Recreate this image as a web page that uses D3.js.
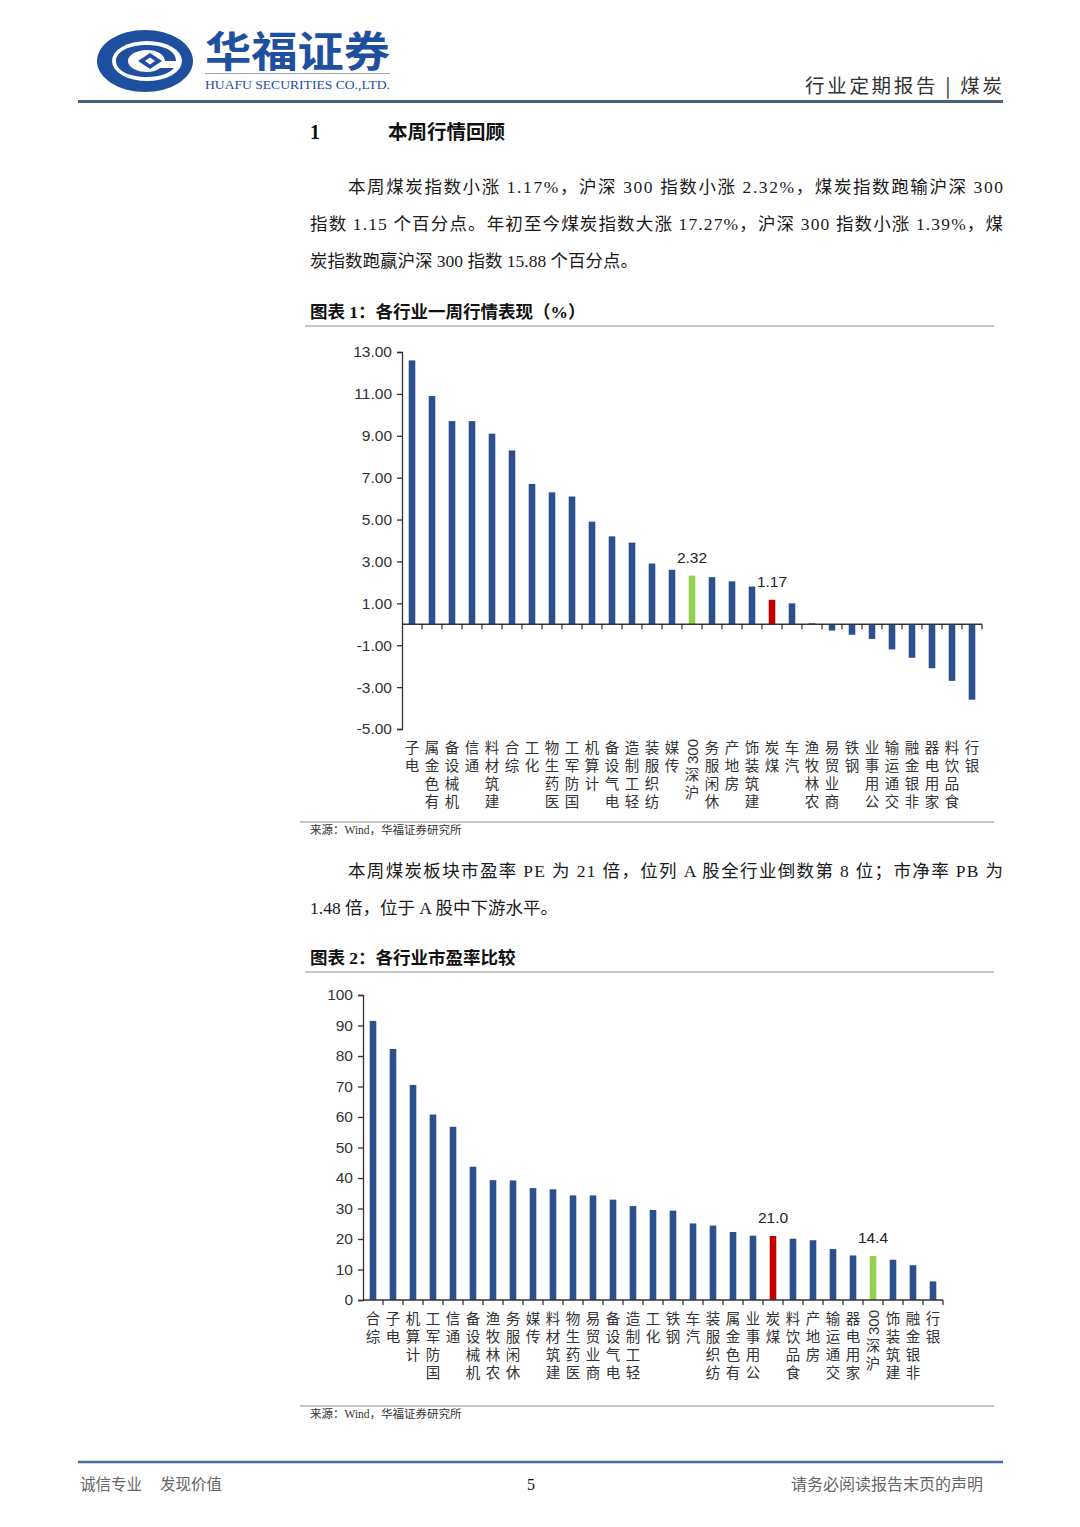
<!DOCTYPE html>
<html><head><meta charset="utf-8">
<script src="https://cdn.jsdelivr.net/npm/d3@7/dist/d3.min.js"></script>
<style>
html,body{margin:0;padding:0;background:#fff;}
svg{display:block;}
</style></head>
<body>
<svg id="page" width="1080" height="1527"></svg>
<script>
// ---------- DATA ----------
const weeklyCategories = ["电子","有色金属","机械设备","通信","建筑材料","综合","化工","医药生物","国防军工","计算机","电气设备","轻工制造","纺织服装","传媒","沪深300","休闲服务","房地产","建筑装饰","煤炭","汽车","农林牧渔","商业贸易","钢铁","公用事业","交通运输","非银金融","家用电器","食品饮料","银行"];
const weeklyValues = [12.6,10.9,9.7,9.7,9.1,8.3,6.7,6.3,6.1,4.9,4.2,3.9,2.9,2.6,2.32,2.25,2.05,1.8,1.17,1.0,0.05,-0.3,-0.5,-0.7,-1.2,-1.6,-2.1,-2.7,-3.6];
const weeklyTicks = [-5,-3,-1,1,3,5,7,9,11,13];
const weeklyLabelled = {"沪深300":"2.32","煤炭":"1.17"};

const peCategories = ["综合","电子","计算机","国防军工","通信","机械设备","农林牧渔","休闲服务","传媒","建筑材料","医药生物","商业贸易","电气设备","轻工制造","化工","钢铁","汽车","纺织服装","有色金属","公用事业","煤炭","食品饮料","房地产","交通运输","家用电器","沪深300","建筑装饰","非银金融","银行"];
const peValues = [91.5,82.3,70.5,60.8,56.8,43.7,39.3,39.2,36.7,36.3,34.3,34.3,32.9,30.8,29.5,29.3,25.1,24.4,22.3,21.1,21.0,20.1,19.6,16.7,14.6,14.4,13.2,11.4,6.1];
const peTicks = [0,10,20,30,40,50,60,70,80,90,100];
const peLabelled = {"煤炭":"21.0","沪深300":"14.4"};

const para1 = [
  "本周煤炭指数小涨 1.17%，沪深 300 指数小涨 2.32%，煤炭指数跑输沪深 300",
  "指数 1.15 个百分点。年初至今煤炭指数大涨 17.27%，沪深 300 指数小涨 1.39%，煤",
  "炭指数跑赢沪深 300 指数 15.88 个百分点。"
];
const para2 = [
  "本周煤炭板块市盈率 PE 为 21 倍，位列 A 股全行业倒数第 8 位；市净率 PB 为",
  "1.48 倍，位于 A 股中下游水平。"
];

// ---------- STYLE ----------
const BLUE = "#2c4f8e", GREEN = "#92d050", RED = "#c00000";
const SERIF = "'Liberation Serif','Noto Sans CJK SC',serif";
const SANS = "'Liberation Sans',Arial,sans-serif";
const CJK = "'Noto Sans CJK SC',sans-serif";

const svg = d3.select("#page");
svg.append("rect").attr("width",1080).attr("height",1527).attr("fill","#fff");

// ---------- HEADER ----------
const logo = svg.append("g");
logo.append("ellipse").attr("cx",145).attr("cy",61).attr("rx",48).attr("ry",31).attr("fill","#1f4f9f");
logo.append("ellipse").attr("cx",147).attr("cy",61).attr("rx",35).attr("ry",20).attr("fill","#fff");
logo.append("path").attr("d","M176,61 C176,49 160,45 147,45 C128,45 116,52 116,61 C116,70 128,77 147,77 C160,77 170,73 174,68 L160,68 C156,71 152,72 147,72 C136,72 128,67 128,61 C128,55 136,50 147,50 C157,50 164,54 165,61 Z").attr("fill","#1f4f9f");
logo.append("path").attr("d","M138,61 L150,53 L162,61 L150,69 Z").attr("fill","#1f4f9f");
logo.append("path").attr("d","M145,61 L150,57.5 L155,61 L150,64.5 Z").attr("fill","#fff");

svg.append("text").attr("x",205).attr("y",67).attr("font-family","'Noto Sans CJK SC',serif").attr("font-weight","bold")
  .attr("font-size",42).attr("fill","#1f4f9f").attr("textLength",185).attr("lengthAdjust","spacingAndGlyphs").text("华福证券");
svg.append("line").attr("x1",205).attr("x2",390).attr("y1",73.5).attr("y2",73.5).attr("stroke","#9aa4b0").attr("stroke-width",1);
svg.append("text").attr("x",205).attr("y",89).attr("font-family",SERIF).attr("font-size",12.5).attr("fill","#1f4f9f")
  .attr("textLength",185).attr("lengthAdjust","spacingAndGlyphs").text("HUAFU SECURITIES CO.,LTD.");

svg.append("text").attr("x",805).attr("y",93).attr("font-family",CJK).attr("font-size",19.5)
  .attr("fill","#333").attr("textLength",197).attr("lengthAdjust","spacing").attr("xml:space","preserve").text("行业定期报告 | 煤炭");
svg.append("line").attr("x1",78).attr("x2",1003).attr("y1",101.5).attr("y2",101.5).attr("stroke","#4a6178").attr("stroke-width",3);

// ---------- SECTION TITLE ----------
svg.append("text").attr("x",310).attr("y",139).attr("font-family",SERIF).attr("font-weight","bold").attr("font-size",20).attr("fill","#111").text("1");
svg.append("text").attr("x",388).attr("y",139).attr("font-family",CJK).attr("font-weight","bold").attr("font-size",19.5).attr("fill","#111").text("本周行情回顾");

function paragraph(lines, y0, justifyFlags){
  lines.forEach((t,i)=>{
    const x = i===0 ? 348 : 310;
    const el = svg.append("text").attr("x",x).attr("y",y0 + i*37).attr("font-family",SERIF)
      .attr("font-size",17.5).attr("fill","#1a1a1a").text(t);
    if (justifyFlags[i]) el.attr("textLength",1003-x).attr("lengthAdjust","spacing");
  });
}
paragraph(para1, 193, [true,true,false]);

function figTitle(y, t){
  svg.append("text").attr("x",310).attr("y",y).attr("font-family",SERIF).attr("font-weight","bold")
    .attr("font-size",17.5).attr("fill","#111").text(t);
  svg.append("line").attr("x1",305).attr("x2",994).attr("y1",y+8).attr("y2",y+8).attr("stroke","#b5b5b5").attr("stroke-width",1.5);
}
function source(y){
  svg.append("line").attr("x1",300).attr("x2",994).attr("y1",y).attr("y2",y).attr("stroke","#b5b5b5").attr("stroke-width",1.5);
  svg.append("text").attr("x",310).attr("y",y+12).attr("font-family",SERIF).attr("font-size",11.5).attr("fill","#333").text("来源：Wind，华福证券研究所");
}

figTitle(318, "图表 1：各行业一周行情表现（%）");

// ---------- CHART helpers ----------
function stackedLabel(g, label, cx, top){
  const tokens = label.match(/[0-9A-Za-z.]+|./g).reverse();
  let cur = top;
  tokens.forEach(tok=>{
    if (/^[0-9A-Za-z.]+$/.test(tok)){
      const t = g.append("text").attr("font-family",SANS).attr("font-size",15).attr("fill","#333")
        .attr("dominant-baseline","central").text(tok);
      const w = t.node().getComputedTextLength();
      t.attr("transform",`translate(${cx},${cur + w}) rotate(-90)`);
      cur += w + 2;
    } else {
      g.append("text").attr("x",cx).attr("y",cur + 13.5).attr("text-anchor","middle")
        .attr("font-family",CJK).attr("font-size",14.5).attr("fill","#333").text(tok);
      cur += 18;
    }
  });
}

function barChart(opts){
  const {cats, vals, ticks, fmt, xr, yDomain, yRange, labelTop, highlight} = opts;
  const g = svg.append("g");
  const x = d3.scaleBand().domain(cats).range(xr).paddingInner(0.67).paddingOuter(0.335);
  const y = d3.scaleLinear().domain(yDomain).range(yRange);
  const step = x.step();
  const bw = x.bandwidth();
  g.selectAll("rect.bar").data(cats).join("rect")
    .attr("x",d=>x(d)).attr("width",bw)
    .attr("y",(d,i)=>y(Math.max(0,vals[i])))
    .attr("height",(d,i)=>Math.max(0.8,Math.abs(y(vals[i])-y(0))))
    .attr("fill",d=> d==="煤炭" ? RED : (d==="沪深300" ? GREEN : BLUE));
  const ya = g.append("g").attr("transform",`translate(${xr[0]},0)`)
    .call(d3.axisLeft(y).tickValues(ticks).tickFormat(fmt).tickSize(5).tickPadding(5));
  ya.select(".domain").attr("stroke","#333").attr("stroke-width",1.3);
  ya.selectAll(".tick line").attr("stroke","#333").attr("stroke-width",1.3);
  ya.selectAll(".tick text").attr("font-family",SANS).attr("font-size",15.5).attr("fill","#333");
  const y0 = y(0);
  g.append("line").attr("x1",xr[0]).attr("x2",xr[1]).attr("y1",y0).attr("y2",y0).attr("stroke","#333").attr("stroke-width",1.5);
  const bounds = cats.map(c=>x(c) - (step-bw)/2).concat([xr[1]]);
  g.selectAll("line.xt").data(bounds.slice(1)).join("line")
    .attr("x1",d=>d).attr("x2",d=>d).attr("y1",y0).attr("y2",y0+5).attr("stroke","#333").attr("stroke-width",1.3);
  cats.forEach(c=> stackedLabel(g, c, x(c)+bw/2, labelTop));
  Object.keys(highlight).forEach(c=>{
    const i = cats.indexOf(c);
    g.append("text").attr("x",x(c)+bw/2).attr("y",y(vals[i]) - 13).attr("text-anchor","middle")
      .attr("font-family",SANS).attr("font-size",15.5).attr("fill","#222").text(highlight[c]);
  });
}

const hyphenFmt2 = v => d3.format(".2f")(v).replace("−","-");
barChart({cats:weeklyCategories, vals:weeklyValues, ticks:weeklyTicks, fmt:hyphenFmt2,
  xr:[402,982], yDomain:[-5,13], yRange:[729,352], labelTop:739, highlight:weeklyLabelled});
source(822);

paragraph(para2, 877, [true,false]);
figTitle(964, "图表 2：各行业市盈率比较");

barChart({cats:peCategories, vals:peValues, ticks:peTicks, fmt:d3.format("d"),
  xr:[363,943], yDomain:[0,100], yRange:[1300,995], labelTop:1310, highlight:peLabelled});
source(1406);

// ---------- FOOTER ----------
svg.append("line").attr("x1",78).attr("x2",1003).attr("y1",1462).attr("y2",1462).attr("stroke","#4a6a9a").attr("stroke-width",2.5);
svg.append("text").attr("x",80).attr("y",1490).attr("font-family",CJK).attr("font-size",15.5).attr("fill","#666").text("诚信专业");
svg.append("text").attr("x",160).attr("y",1490).attr("font-family",CJK).attr("font-size",15.5).attr("fill","#666").text("发现价值");
svg.append("text").attr("x",531).attr("y",1490).attr("text-anchor","middle").attr("font-family",SERIF).attr("font-size",16).attr("fill","#111").text("5");
svg.append("text").attr("x",983).attr("y",1490).attr("text-anchor","end").attr("font-family",CJK).attr("font-size",16).attr("fill","#666").text("请务必阅读报告末页的声明");
</script>
</body></html>
